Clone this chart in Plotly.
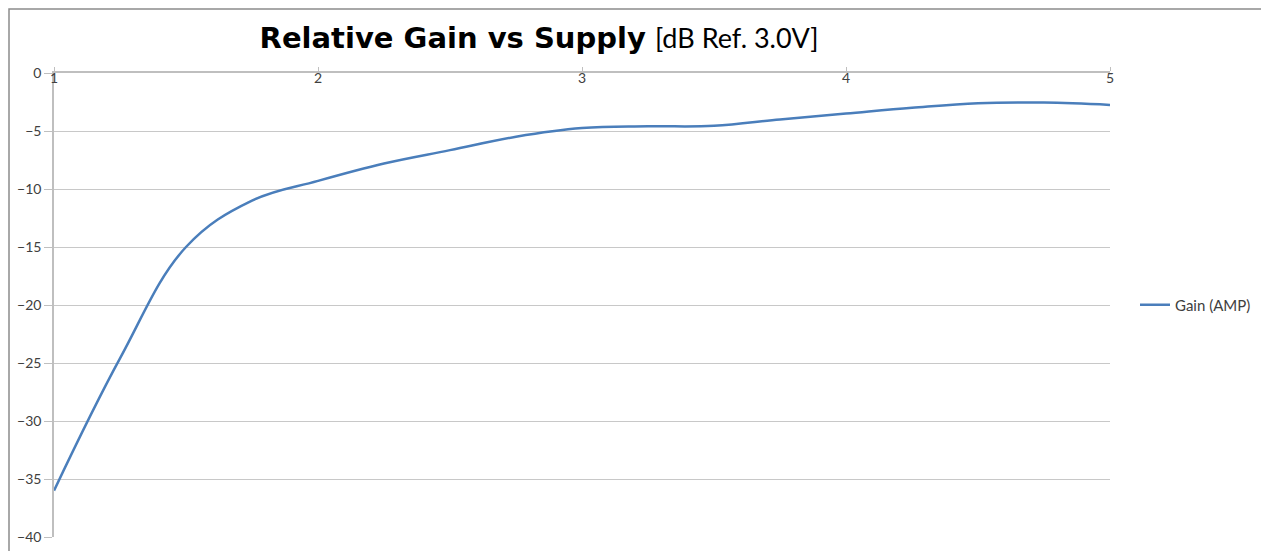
import plotly.graph_objects as go

supply_v = [1.0, 1.25, 1.5, 1.75, 2.0, 2.25, 2.5, 2.75, 3.0, 3.25, 3.5, 3.75, 4.0, 4.25, 4.5, 4.75, 5.0]
gain_db = [-36.0, -24.6, -15.0, -11.0, -9.3, -7.8, -6.65, -5.5, -4.75, -4.6, -4.55, -4.0, -3.5, -3.0, -2.6, -2.55, -2.75]
x_ticks = [1, 2, 3, 4, 5]
y_ticks = [0, -5, -10, -15, -20, -25, -30, -35, -40]
series_name = "Gain (AMP)"

OFF = 8  # page body margin
W, H = 1269 - OFF, 551 - OFF
L, R, T, B = 54 - OFF, 1110 - OFF, 73 - OFF, 537 - OFF

fig = go.Figure()
fig.add_trace(go.Scatter(
    x=supply_v, y=gain_db, mode="lines", name=series_name,
    line=dict(color="#4A7EBB", width=2.5, shape="spline", smoothing=1.1),
))

def px_x(p):
    return (p - OFF - L) / (R - L)

def px_y(p):
    return (B - (p - OFF)) / (B - T)

fig.update_layout(
    width=W, height=H,
    margin=dict(l=L, r=W - R, t=T, b=H - B, autoexpand=False),
    paper_bgcolor="white", plot_bgcolor="white",
    font=dict(family="Lato, Open Sans, sans-serif", color="#404040", size=14),
    title=dict(
        text="<b>Relative Gain vs Supply</b> <span style='font-family:Lato;font-weight:normal;font-size:27px'>[dB Ref. 3.0V]</span>",
        font=dict(family="DejaVu Sans, sans-serif", size=29, color="black"),
        x=(539 - OFF) / W, xanchor="center", xref="container",
        y=1 - (38 - OFF) / H, yanchor="middle", yref="container",
    ),
    showlegend=True,
    legend=dict(
        x=px_x(1135), y=px_y(305), xanchor="left", yanchor="middle",
        font=dict(family="Lato, sans-serif", size=15, color="#404040"),
        bgcolor="rgba(0,0,0,0)", itemwidth=30,
    ),
    xaxis=dict(
        range=[1, 5], side="top", tickmode="array", tickvals=x_ticks,
        ticklabelposition="inside", ticklabeloverflow="allow",
        ticks="outside", ticklen=4, tickcolor="#BFBFBF",
        showgrid=False, showline=True, linecolor="#BFBFBF", linewidth=1.5,
        zeroline=False, automargin=False, tickfont=dict(size=14, color="#404040"),
    ),
    yaxis=dict(
        range=[-40, 0], tickmode="array", tickvals=y_ticks,
        ticklabeloverflow="allow",
        ticks="outside", ticklen=8, tickcolor="#BFBFBF",
        showgrid=True, gridcolor="#C8C8C8", gridwidth=1,
        showline=True, linecolor="#BFBFBF", linewidth=1.5,
        zeroline=False, automargin=False, tickfont=dict(size=14, color="#404040"),
    ),
    shapes=[dict(
        type="rect", xref="paper", yref="paper",
        x0=px_x(OFF + 1), x1=px_x(1267), y0=px_y(600), y1=px_y(OFF + 1),
        line=dict(color="#8C8C8C", width=1.5), layer="below",
    )],
)

fig.write_html("out.html")
